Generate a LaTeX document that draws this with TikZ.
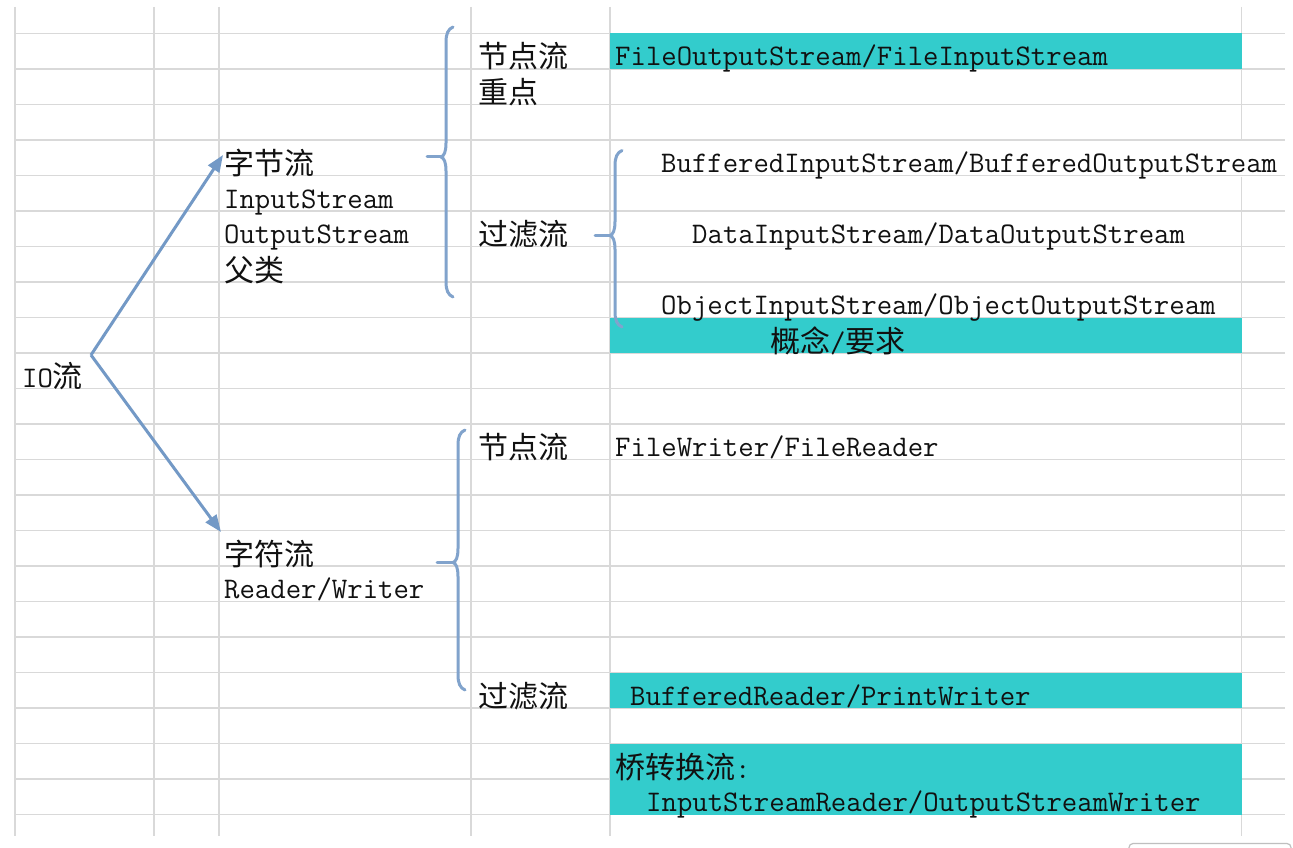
\documentclass[tikz,border=0pt]{standalone}
\usepackage{fontspec}
\newfontfamily\cjk{Noto Sans CJK SC}[Scale=1.0]
\usetikzlibrary{arrows.meta}
\definecolor{gridc}{HTML}{D9D9D9}
\definecolor{tealc}{HTML}{33CCCC}
\definecolor{linec}{HTML}{7399C6}
\definecolor{txtc}{HTML}{111111}
\newcommand\zh[1]{{\cjk\fontsize{30}{35}\selectfont #1}}
\newcommand\mybrace[5]{%
  \draw[brc] (#1+7,#2) .. controls (#1+2,#2+2) and (#1,#2+7) .. (#1,#2+15)
    -- (#1,#3-14) .. controls (#1,#3-5) and (#1-2,#3-1) .. (#1-5,#3)
    .. controls (#1-2,#3+1) and (#1,#3+5) .. (#1,#3+14)
    -- (#1,#4-15) .. controls (#1,#4-7) and (#1+2,#4-2) .. (#1+7,#4);
  \draw[brc] (#5,#3) -- (#1-5,#3);}
\begin{document}
\begin{tikzpicture}[x=1pt,y=-1pt,
  gridl/.style={draw=gridc,line width=1.4pt},
  txt/.style={anchor=base west,inner sep=0pt,text=txtc,font=\ttfamily\fontsize{29.9}{35}\selectfont},
  brc/.style={draw=linec!90,line width=3pt,line cap=round,line join=round},
  arr/.style={draw=linec,line width=3pt,-{Triangle[length=17pt,width=13pt]}}]
\useasboundingbox (0,0) rectangle (1293,848);
\fill[white] (0,0) rectangle (1293,848);
% grid
\foreach \k in {0,...,22} \draw[gridl] (15,33.5+35.5*\k) -- (1285,33.5+35.5*\k);
\foreach \x in {15,154,219,471,610} \draw[gridl] (\x,7) -- (\x,836);
\draw[gridl] (1241.5,7) -- (1241.5,141);
\draw[gridl] (1241.5,176.5) -- (1241.5,836);
% teal cells
\fill[tealc] (610,33.5) rectangle (1242,69);
\fill[tealc] (610,317.5) rectangle (1242,353);
\fill[tealc] (610,672.5) rectangle (1242,708);
\fill[tealc] (610,743.5) rectangle (1242,814.5);
% artifact box bottom right
\draw[draw=black!25,line width=1.2pt,rounded corners=4pt] (1129,856) -- (1129,843.5) -- (1291,843.5) -- (1291,856);
% texts
\node[txt] (io) at (22,387) {IO\zh{流}};
\node[txt] (zj) at (224,174.5) {\zh{字节流}};
\node[txt] (is) at (224,208) {InputStream};
\node[txt] (os) at (224,243.5) {OutputStream};
\node[txt] (fl) at (224,281) {\zh{父类}};
\node[txt] (zf) at (224,565) {\zh{字符流}};
\node[txt] (rw) at (224,598.5) {Reader/Writer};
\node[txt] (jd1) at (478,68) {\zh{节点流}};
\node[txt] (zd) at (478,103.5) {\zh{重点}};
\node[txt] (gl1) at (478,245.5) {\zh{过滤流}};
\node[txt] (jd2) at (478,458.5) {\zh{节点流}};
\node[txt] (gl2) at (478,707) {\zh{过滤流}};
\node[txt] (fos) at (615,66) {FileOutputStream/FileInputStream};
\node[txt] (bis) at (661,172.5) {BufferedInputStream/BufferedOutputStream};
\node[txt] (dis) at (692,243.5) {DataInputStream/DataOutputStream};
\node[txt] (ois) at (661,314.5) {ObjectInputStream/ObjectOutputStream};
\node[txt] (gn) at (770,352) {\zh{概念}/\zh{要求}};
\node[txt] (fw) at (615,456.5) {FileWriter/FileReader};
\node[txt] (br) at (630,705) {BufferedReader/PrintWriter};
\node[txt] (qz) at (615,778) {\zh{桥转换流}:};
\node[txt] (isr) at (646,811.5) {InputStreamReader/OutputStreamWriter};
% arrows
\coordinate (v) at (91,355);
\coordinate (ta) at (223,155);
\coordinate (tb) at (221,532);
\draw[arr] (v) -- (ta);
\draw[arr] (v) -- (tb);
% braces
\mybrace{446}{27}{157}{297}{427}
\mybrace{615}{150.5}{235.5}{327}{595}
\mybrace{458}{430}{562.5}{690}{437}
\end{tikzpicture}
\end{document}
